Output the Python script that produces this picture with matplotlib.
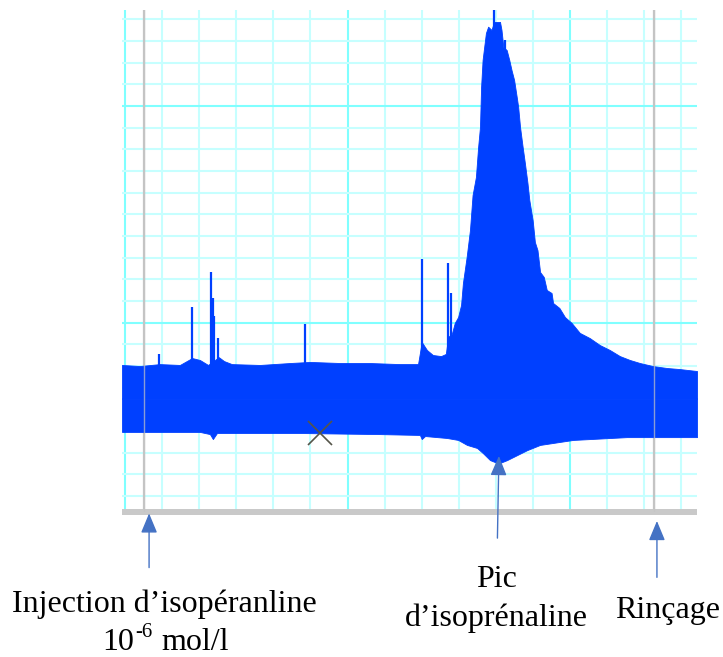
import numpy as np
import matplotlib
matplotlib.use("Agg")
import matplotlib.pyplot as plt

plt.rcParams['font.family'] = ['Liberation Serif', 'DejaVu Serif']

#SIGNAL ENVELOPE (grid divisions)
x_top = [-0.08, 0.40, 0.94, 1.48, 1.81, 2.02, 2.24, 2.53, 2.67, 2.88, 3.64, 4.45,
         4.99, 5.80, 6.60, 7.41, 7.90, 8.00, 8.14, 8.30, 8.52, 8.65, 8.71, 8.81,
         8.89, 8.98, 9.06, 9.11, 9.21, 9.30, 9.37, 9.46, 9.52, 9.57, 9.60, 9.64,
         9.68, 9.73, 9.79, 9.88, 9.95, 10.11, 10.15, 10.20, 10.29, 10.36, 10.42,
         10.49, 10.56, 10.60, 10.65, 10.72, 10.78, 10.85, 10.90, 10.99, 11.05,
         11.12, 11.19, 11.29, 11.37, 11.50, 11.54, 11.71, 11.86, 12.04, 12.26,
         12.53, 12.80, 13.07, 13.34, 13.61, 13.88, 14.23, 14.61, 14.96, 15.42]
y_top = [-1.95, -2.00, -1.91, -1.95, -1.63, -1.72, -1.95, -1.59, -1.77, -1.91, -1.95, -1.86,
         -1.81, -1.86, -1.86, -1.91, -1.91, -0.89, -1.26, -1.49, -1.54, -1.44, -0.66, -0.52,
         -0.01, 0.26, 0.82, 1.83, 3.03, 4.28, 5.89, 6.72, 8.11, 9.03, 10.88, 12.12,
         12.68, 13.37, 13.66, 13.51, 13.88, 13.88, 13.51, 12.72, 12.58, 12.12, 11.66,
         11.20, 10.42, 9.95, 9.03, 8.11, 7.37, 6.45, 5.66, 4.73, 3.72,
         3.35, 2.34, 2.11, 1.51, 1.37, 0.91, 0.68, 0.26, -0.01, -0.47,
         -0.71, -1.03, -1.26, -1.54, -1.72, -1.86, -2.00, -2.09, -2.14, -2.23]

x_bot = [-0.08, 2.02, 2.29, 2.37, 2.48, 4.72, 6.87, 7.95, 8.00, 8.09, 8.68, 8.98,
         9.22, 9.49, 9.65, 9.84, 10.03, 10.11, 10.30, 10.57, 10.84, 11.19, 11.73,
         12.08, 12.53, 13.53, 14.23, 15.42]
y_bot = [-5.04, -5.04, -5.14, -5.37, -5.09, -5.09, -5.14, -5.18, -5.37, -5.23, -5.32, -5.41,
         -5.64, -5.78, -6.02, -6.34, -6.47, -6.47, -6.34, -6.11, -5.88, -5.64, -5.50,
         -5.41, -5.37, -5.28, -5.28, -5.28]

#ARTEFACT SPIKES
spike_x = [0.92, 1.81, 2.32, 2.36, 2.41, 2.50, 4.85, 8.00, 8.70, 8.80, 9.95, 10.24]
spike_y = [-1.44, 0.71, 2.35, 1.14, 0.32, -0.69, -0.06, 2.93, 2.77, 1.36, 14.43, 13.05]

#EVENTS
injection_x = 0.52
peak_x = 10.08
rinse_x = 14.25
cursor_x, cursor_y = 5.26, -5.09

BLUE = "#0040ff"
ARROW = "#4472c4"

fig = plt.figure(figsize=(7.23, 6.57), dpi=100)
ax = fig.add_axes([122/723, 1 - 512/657, 575/723, 502/657])
ax.set_xlim(-0.08, 15.42)
ax.set_ylim(-8.735, 14.43)

#GRID
for gx in range(0, 16):
    major = gx % 6 == 0
    ax.axvline(gx, color="#80ffff" if major else "#c6ffff", lw=1.5, zorder=0)
for gy in range(-8, 15):
    major = gy % 10 == 0
    ax.axhline(gy, color="#80ffff" if major else "#c6ffff", lw=1.5, zorder=0)

#EVENT LINES
ax.axvline(injection_x, color="#c4c4c4", lw=1.6, zorder=1)
ax.axvline(rinse_x, color="#c4c4c4", lw=1.6, zorder=1)

#SIGNAL
mid = -3.5
ax.fill_between(x_top, y_top, mid, color=BLUE, lw=0.6, edgecolor=BLUE, zorder=2)
ax.fill_between(x_bot, mid, y_bot, color=BLUE, lw=0.6, edgecolor=BLUE, zorder=2)
ax.vlines(spike_x, mid, spike_y, color=BLUE, lw=1.6, zorder=2)

ax.plot(cursor_x, cursor_y, marker="x", color="#55554a", markersize=17, mew=1.2, zorder=3)

# event lines show faintly through the trace
ax.axvline(injection_x, color="#c4c4c4", lw=1.0, alpha=0.7, zorder=3)
ax.axvline(rinse_x, color="#c4c4c4", lw=1.0, alpha=0.7, zorder=3)

for s in ["top", "left", "right"]:
    ax.spines[s].set_visible(False)
ax.spines["bottom"].set_color("#c9c9c9")
ax.spines["bottom"].set_linewidth(4.3)
ax.spines["bottom"].set_capstyle("butt")
ax.set_xticks([])
ax.set_yticks([])

#ARROWS
arrow_style = dict(arrowstyle="-|>,head_length=0.6,head_width=0.25", color=ARROW,
                   lw=1.0, mutation_scale=20, shrinkA=0, shrinkB=0)
ax.annotate("", xy=(0.65, -8.8), xytext=(0.65, -11.30), arrowprops=arrow_style,
            annotation_clip=False)
ax.annotate("", xy=(peak_x, -6.15), xytext=(peak_x - 0.04, -9.94), arrowprops=arrow_style,
            annotation_clip=False)
ax.annotate("", xy=(14.34, -9.15), xytext=(14.34, -11.75), arrowprops=arrow_style,
            annotation_clip=False)

#LABELS
def label(px, py, s, size=23, ha="center"):
    fig.text(px/723, 1 - py/657, s, ha=ha, va="baseline", fontsize=size, color="black")

label(164, 612, "Injection d’isopéranline")
label(102, 650, "10", ha="left")
label(135.5, 637, "-6", size=15, ha="left")
label(161, 650, "mol/l", ha="left")
label(497, 587, "Pic")
label(496, 626, "d’isoprénaline")
label(668, 618, "Rinçage")

fig.savefig("out.png", dpi=100)
